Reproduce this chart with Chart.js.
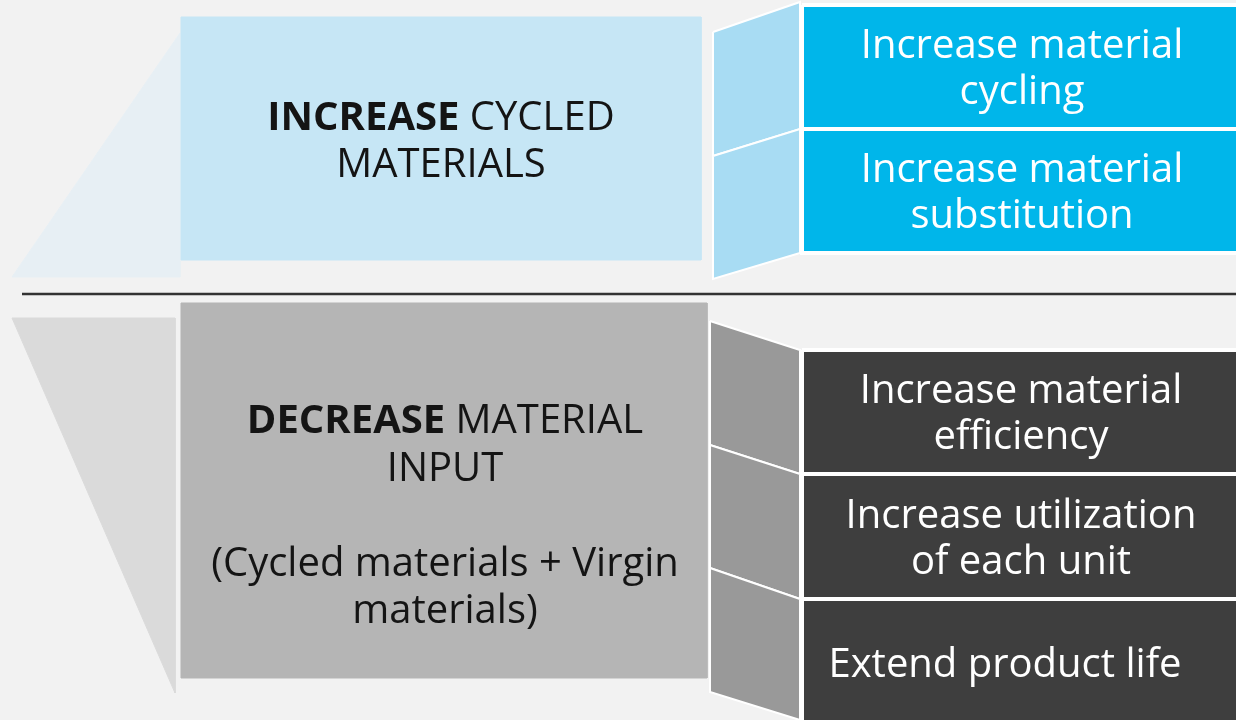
<!DOCTYPE html>
<html lang="en">
<head>
    <meta charset="UTF-8">
    <title>Increase cycled materials / Decrease material input</title>
    <script src="https://cdn.jsdelivr.net/npm/chart.js"></script>
    <style>
        body {
            margin: 0;
            background: #f2f2f2;
        }
        canvas {
            display: block;
        }
    </style>
</head>
<body>
    <canvas id="diagram" width="1236" height="720"></canvas>

    <script>
        // Diagram geometry (x to the right, y downwards, in picture units)
        var topWedge = [[12, 277], [180, 33], [180, 277]];
        var topPanel = [181, 17, 701, 260];
        var topFolds = [
            [[713, 32], [800, 2], [800, 129], [713, 156]],
            [[713, 156], [800, 129], [800, 253], [713, 279]]
        ];
        var topBoxes = [[802, 5, 1242, 129], [802, 129, 1242, 253]];
        var dividerLine = [[22, 294], [1236, 294]];
        var bottomWedge = [[12, 318], [175, 318], [175, 693]];
        var bottomPanel = [181, 303, 707, 678];
        var bottomFolds = [
            [[710, 321], [800, 350], [800, 474], [710, 445]],
            [[710, 445], [800, 474], [800, 599], [710, 568]],
            [[710, 568], [800, 599], [800, 720], [710, 692]]
        ];
        var bottomBoxes = [[802, 350, 1242, 474], [802, 474, 1242, 599], [802, 599, 1242, 728]];

        // Texts ([text, bold] runs per line)
        var topPanelLines = [[['INCREASE', true], [' CYCLED', false]], [['MATERIALS', false]]];
        var bottomPanelLines = [
            [['DECREASE', true], [' MATERIAL', false]],
            [['INPUT', false]],
            [],
            [['(Cycled materials + Virgin', false]],
            [['materials)', false]]
        ];
        var topBoxLabels = [['Increase material', 'cycling'], ['Increase material', 'substitution']];
        var bottomBoxLabels = [['Increase material', 'efficiency'], ['Increase utilization', 'of each unit'], ['Extend product life']];
        var topLabelX = [1022, 1022];
        var bottomLabelX = [1021, 1021, 1005];

        var colors = {
            topWedge: '#e7eff4',
            topPanel: '#c6e6f5',
            topFold: '#a8dcf3',
            topBox: '#00b6ea',
            bottomWedge: '#dadada',
            bottomPanel: '#b5b5b5',
            bottomFold: '#999999',
            bottomBox: '#3e3e3e'
        };

        var FONT_SIZE = 40;
        var LINE_H = 46;

        function rect(r) {
            return [[r[0], r[1]], [r[2], r[1]], [r[2], r[3]], [r[0], r[3]]];
        }

        var shapes = [];
        function addShape(pts, fillColor, border, borderWidth) {
            shapes.push({
                data: pts.concat([pts[0]]).map(function (p) { return {x: p[0], y: p[1]}; }),
                showLine: true,
                fill: 'shape',
                backgroundColor: fillColor,
                borderColor: border || fillColor,
                borderWidth: borderWidth || 1,
                pointRadius: 0,
                tension: 0
            });
        }

        addShape(topWedge, colors.topWedge);
        addShape(rect(topPanel), colors.topPanel);
        topFolds.forEach(function (f) { addShape(f, colors.topFold, '#ffffff', 2); });
        topBoxes.forEach(function (b) { addShape(rect(b), colors.topBox, '#ffffff', 4); });
        addShape(bottomWedge, colors.bottomWedge);
        addShape(rect(bottomPanel), colors.bottomPanel);
        bottomFolds.forEach(function (f) { addShape(f, colors.bottomFold, '#ffffff', 2); });
        bottomBoxes.forEach(function (b) { addShape(rect(b), colors.bottomBox, '#ffffff', 4); });

        shapes.push({
            data: dividerLine.map(function (p) { return {x: p[0], y: p[1]}; }),
            showLine: true,
            fill: false,
            borderColor: '#333333',
            borderWidth: 2.5,
            pointRadius: 0
        });

        // earlier shapes painted first
        shapes.forEach(function (s, i) { s.order = shapes.length - i; });

        function font(bold) {
            return (bold ? 'bold ' : '') + FONT_SIZE + 'px "Open Sans", "Noto Sans", sans-serif';
        }

        function drawRuns(ctx, runs, cx, y) {
            var total = 0;
            runs.forEach(function (r) { ctx.font = font(r[1]); total += ctx.measureText(r[0]).width; });
            var x = cx - total / 2;
            runs.forEach(function (r) {
                ctx.font = font(r[1]);
                ctx.fillText(r[0], x, y);
                x += ctx.measureText(r[0]).width;
            });
        }

        var textPlugin = {
            id: 'diagramText',
            afterDatasetsDraw: function (chart) {
                var ctx = chart.ctx;
                var xs = chart.scales.x, ys = chart.scales.y;
                ctx.save();
                ctx.textBaseline = 'alphabetic';
                ctx.textAlign = 'left';

                ctx.fillStyle = '#141414';
                topPanelLines.forEach(function (line, i) {
                    drawRuns(ctx, line, xs.getPixelForValue(441), ys.getPixelForValue(130 + i * 47));
                });
                bottomPanelLines.forEach(function (line, i) {
                    drawRuns(ctx, line, xs.getPixelForValue(445), ys.getPixelForValue(433 + i * 47.5));
                });

                ctx.fillStyle = '#ffffff';
                function boxText(boxes, labels, centers) {
                    boxes.forEach(function (b, i) {
                        var lines = labels[i];
                        var cy = (b[1] + Math.min(b[3], 726)) / 2;
                        var first = cy - ((lines.length - 1) * LINE_H + 28) / 2 + 28;
                        lines.forEach(function (t, j) {
                            drawRuns(ctx, [[t, false]], xs.getPixelForValue(centers[i]), ys.getPixelForValue(first + j * LINE_H));
                        });
                    });
                }
                boxText(topBoxes, topBoxLabels, topLabelX);
                boxText(bottomBoxes, bottomBoxLabels, bottomLabelX);
                ctx.restore();
            }
        };

        function draw() {
            var ctx = document.getElementById('diagram').getContext('2d');
            new Chart(ctx, {
                type: 'scatter',
                data: {datasets: shapes},
                options: {
                    responsive: false,
                    animation: false,
                    devicePixelRatio: 1,
                    events: [],
                    layout: {padding: 0},
                    scales: {
                        x: {type: 'linear', min: 0, max: 1236, display: false},
                        y: {type: 'linear', min: 0, max: 720, reverse: true, display: false}
                    },
                    plugins: {
                        legend: {display: false},
                        tooltip: {enabled: false}
                    }
                },
                plugins: [textPlugin]
            });
        }

        Promise.all([
            document.fonts.load(font(false)),
            document.fonts.load(font(true))
        ]).then(draw, draw);
    </script>
</body>
</html>
